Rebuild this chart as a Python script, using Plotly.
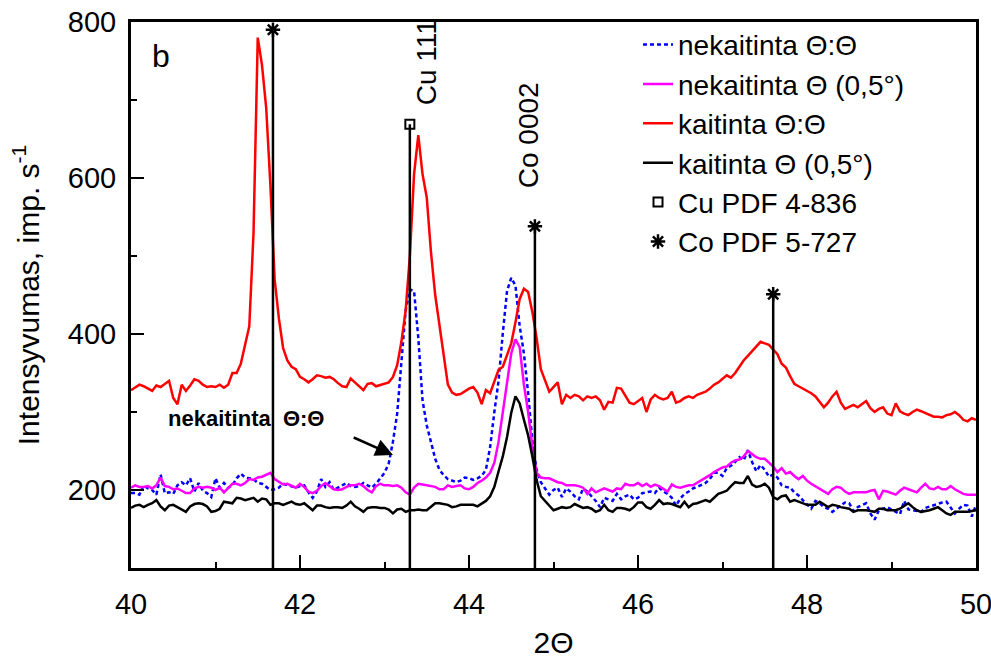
import plotly.graph_objects as go

# Scan grid, 2-theta in degrees (step 0.05)
two_theta = [round(40 + 0.05 * i, 2) for i in range(201)]

# Intensity, imp/s
nekaitinta_tt = [
    196, 196, 194, 206, 202, 200, 194, 220, 196, 197,
    195, 206, 210, 206, 215, 198, 209, 199, 196, 191,
    215, 203, 209, 203, 206, 215, 221, 216, 215, 214,
    209, 208, 204, 200, 201, 203, 208, 206, 204, 203,
    205, 206, 197, 190, 198, 214, 204, 210, 200, 203,
    205, 209, 205, 204, 205, 209, 206, 203, 208, 215,
    222, 234, 262, 298, 360, 430, 457, 455, 395, 315,
    283, 260, 240, 226, 219, 214, 212, 210, 212, 216,
    215, 213, 215, 218, 226, 255, 300, 340, 401, 455,
    472, 462, 410, 375, 324, 262, 226, 210, 202, 194,
    200, 203, 191, 202, 198, 192, 188, 202, 198, 192,
    186, 178, 190, 188, 186, 195, 188, 192, 194, 188,
    190, 196, 197, 198, 196, 203, 198, 195, 190, 180,
    189, 195, 198, 202, 204, 206, 209, 214, 222, 222,
    218, 228, 231, 236, 242, 238, 251, 236, 224, 232,
    226, 217, 220, 216, 206, 204, 203, 197, 193, 187,
    181, 176, 186, 183, 178, 176, 172, 176, 179, 184,
    183, 173, 178, 180, 183, 170, 162, 174, 176, 178,
    175, 172, 169, 186, 175, 174, 173, 172, 177, 179,
    181, 183, 184, 185, 178, 170, 176, 181, 180, 166,
    181,
]

nekaitinta_05 = [
    203, 206, 204, 204, 205, 202, 206, 216, 205, 204,
    201, 202, 199, 196, 196, 202, 204, 203, 204, 203,
    200, 203, 197, 203, 208, 208, 206, 209, 214, 213,
    216, 217, 219, 222, 214, 210, 207, 208, 206, 203,
    208, 204, 198, 196, 199, 205, 209, 205, 201, 200,
    201, 204, 206, 206, 208, 205, 200, 197, 205, 208,
    206, 206, 205, 206, 203, 197, 194, 203, 208, 207,
    206, 205, 204, 201, 201, 206, 204, 205, 206, 202,
    201, 204, 209, 212, 216, 222, 235, 262, 300, 340,
    375, 393, 383, 335, 300, 255, 222, 216, 215, 215,
    212, 210, 209, 206, 206, 206, 205, 203, 195, 202,
    197, 199, 202, 200, 198, 202, 201, 208, 206, 206,
    209, 205, 208, 204, 207, 205, 202, 198, 207, 204,
    203, 205, 206, 206, 209, 213, 215, 219, 223, 226,
    229, 230, 235, 238, 239, 243, 250, 246, 242, 240,
    240, 235, 230, 223, 228, 221, 223, 218, 214, 218,
    212, 208, 205, 202, 199, 195, 201, 204, 203, 198,
    195, 197, 197, 197, 197, 199, 200, 188, 199, 198,
    196, 194, 199, 203, 201, 199, 197, 203, 208, 202,
    201, 204, 201, 201, 205, 201, 198, 195, 194, 194,
    194,
]

kaitinta_tt = [
    328, 332, 335, 333, 330, 327, 334, 332, 336, 340,
    318, 310, 335, 327, 334, 342, 340, 335, 332, 333,
    332, 335, 331, 335, 350, 350, 362, 385, 410, 530,
    780, 745, 690, 590, 470, 420, 382, 366, 358, 355,
    345, 342, 338, 342, 347, 346, 344, 345, 342, 337,
    333, 332, 343, 338, 333, 328, 336, 337, 333, 335,
    336, 338, 345, 360, 390, 430, 500, 605, 655, 605,
    575, 505, 450, 410, 370, 335, 325, 322, 323, 327,
    330, 332, 325, 310, 328, 324, 340, 354, 358, 372,
    388, 415, 445, 458, 454, 428, 395, 355, 340, 326,
    332, 338, 310, 322, 318, 322, 320, 315, 320, 318,
    320, 315, 303, 313, 312, 331, 330, 320, 312, 310,
    314, 318, 300, 316, 322, 318, 316, 318, 326, 312,
    314, 318, 320, 318, 322, 324, 326, 330, 335, 338,
    342, 347, 344, 350, 358, 366, 372, 378, 385, 390,
    388, 386, 380, 374, 362, 357, 346, 336, 333, 330,
    328, 324, 320, 313, 306, 312, 320, 326, 312, 304,
    306, 309, 306, 310, 314, 305, 300, 304, 306, 298,
    296, 311, 301, 298, 296, 300, 303, 301, 299, 296,
    294, 294, 293, 296, 297, 300, 296, 290, 288, 292,
    290,
]

kaitinta_05 = [
    177, 180, 181, 178, 181, 183, 187, 179, 174, 180,
    181, 178, 175, 172, 179, 182, 183, 182, 179, 172,
    173, 176, 185, 184, 183, 190, 189, 187, 189, 190,
    185, 189, 188, 181, 183, 183, 181, 183, 185, 182,
    181, 183, 178, 174, 180, 180, 178, 177, 178, 178,
    177, 180, 185, 179, 176, 172, 177, 178, 178, 177,
    177, 175, 170, 175, 176, 172, 174, 174, 175, 174,
    174, 179, 183, 183, 182, 181, 178, 179, 181, 181,
    181, 181, 179, 182, 186, 192, 204, 224, 243, 268,
    299, 320, 311, 290, 270, 243, 213, 192, 186, 180,
    174, 176, 178, 177, 178, 182, 179, 177, 178, 176,
    172, 174, 181, 174, 172, 177, 177, 176, 174, 178,
    184, 184, 178, 176, 181, 187, 182, 183, 182, 180,
    178, 185, 178, 182, 183, 185, 187, 185, 190, 195,
    197, 199, 205, 210, 209, 209, 218, 207, 204, 205,
    208, 203, 191, 188, 192, 193, 185, 187, 185, 183,
    181, 181, 181, 185, 181, 178, 181, 180, 178, 177,
    176, 172, 174, 174, 174, 173, 172, 176, 176, 174,
    174, 174, 176, 179, 183, 178, 174, 172, 173, 174,
    176, 178, 174, 170, 168, 172, 172, 172, 172, 173,
    174,
]

# Reference line positions (deg) and stick heights
cu_pos = [43.30]
cu_height = [669]
co_pos = [41.68, 44.78, 47.60]
co_height = [790, 538, 451]

y_floor = 100

fig = go.Figure()

curves = [
    ("nekaitinta Θ:Θ", nekaitinta_tt, "#0000FF", "4px,3px", 2.5),
    ("nekaitinta Θ (0,5°)", nekaitinta_05, "#FF00FF", "solid", 2.5),
    ("kaitinta Θ:Θ", kaitinta_tt, "#FF0000", "solid", 2.5),
    ("kaitinta Θ (0,5°)", kaitinta_05, "#000000", "solid", 2.5),
]
for rank, (name, ys, color, dash, w) in enumerate(curves):
    fig.add_trace(go.Scatter(
        x=two_theta, y=ys, mode="lines", name=name,
        line=dict(color=color, width=w, dash=dash),
        legendrank=rank + 1,
    ))

# Stick lines for reference patterns
for pos, hts in ((cu_pos, cu_height), (co_pos, co_height)):
    xs, ys = [], []
    for p, h in zip(pos, hts):
        xs += [p, p, None]
        ys += [y_floor, h, None]
    fig.add_trace(go.Scatter(
        x=xs, y=ys, mode="lines", showlegend=False, hoverinfo="skip",
        line=dict(color="black", width=2.5),
    ))

fig.add_trace(go.Scatter(
    x=cu_pos, y=cu_height, mode="markers", name="Cu PDF 4-836",
    marker=dict(symbol="square-open", size=9, color="black", line=dict(width=2)),
    legendrank=5,
))
fig.add_trace(go.Scatter(
    x=co_pos, y=co_height, mode="markers", name="Co PDF 5-727",
    marker=dict(symbol="asterisk-open", size=12, color="black", line=dict(width=2.5, color="black")),
    legendrank=6,
))

font_main = "Arial, Liberation Sans, sans-serif"

fig.add_annotation(x=40.35, y=757, text="b", showarrow=False,
                   font=dict(family=font_main, size=32, color="black"))
fig.add_annotation(x=43.50, y=748, text="Cu 111", textangle=-90, showarrow=False,
                   font=dict(family=font_main, size=28, color="black"))
fig.add_annotation(x=44.70, y=655, text="Co 0002", textangle=-90, showarrow=False,
                   font=dict(family=font_main, size=28, color="black"))
fig.add_annotation(x=41.36, y=292, text="<b>nekaitinta  Θ:Θ</b>", showarrow=False,
                   font=dict(family=font_main, size=22, color="black"))
fig.add_annotation(x=43.10, y=245, ax=42.60, ay=269, axref="x", ayref="y",
                   text=" ", showarrow=True, arrowhead=2, arrowsize=1.4,
                   arrowwidth=2.5, arrowcolor="black")

fig.update_layout(
    width=991, height=661,
    margin=dict(l=131, r=15, t=22, b=93, autoexpand=False),
    paper_bgcolor="white", plot_bgcolor="white",
    font=dict(family=font_main, color="black"),
    legend=dict(
        x=0.600, y=1.004, xanchor="left", yanchor="top",
        bgcolor="rgba(0,0,0,0)", borderwidth=0, tracegroupgap=0,
        font=dict(family=font_main, size=28, color="black"),
    ),
    xaxis=dict(
        range=[40, 50], showgrid=False, zeroline=False, automargin=False,
        showline=True, linecolor="black", linewidth=3, mirror=True,
        ticks="inside", ticklen=13, tickwidth=2, tickcolor="black",
        tickvals=[40, 42, 44, 46, 48, 50],
        minor=dict(ticks="inside", ticklen=6, tickwidth=2, dtick=1, tickcolor="black"),
        tickfont=dict(family=font_main, size=29, color="black"),
        ticklabelstandoff=8, ticklabeloverflow="allow",
        title=dict(text="2Θ", font=dict(family=font_main, size=30, color="black"), standoff=14),
    ),
    yaxis=dict(
        range=[100, 800], showgrid=False, zeroline=False, automargin=False,
        showline=True, linecolor="black", linewidth=3, mirror=True,
        ticks="inside", ticklen=13, tickwidth=2, tickcolor="black",
        tickvals=[200, 400, 600, 800],
        minor=dict(ticks="inside", ticklen=6, tickwidth=2, dtick=100, tickcolor="black"),
        tickfont=dict(family=font_main, size=29, color="black"),
        ticklabelstandoff=6,
        title=dict(text="Intensyvumas, imp. s<sup>-1</sup>",
                   font=dict(family=font_main, size=30, color="black"), standoff=20),
    ),
)

fig.write_html("out.html")
